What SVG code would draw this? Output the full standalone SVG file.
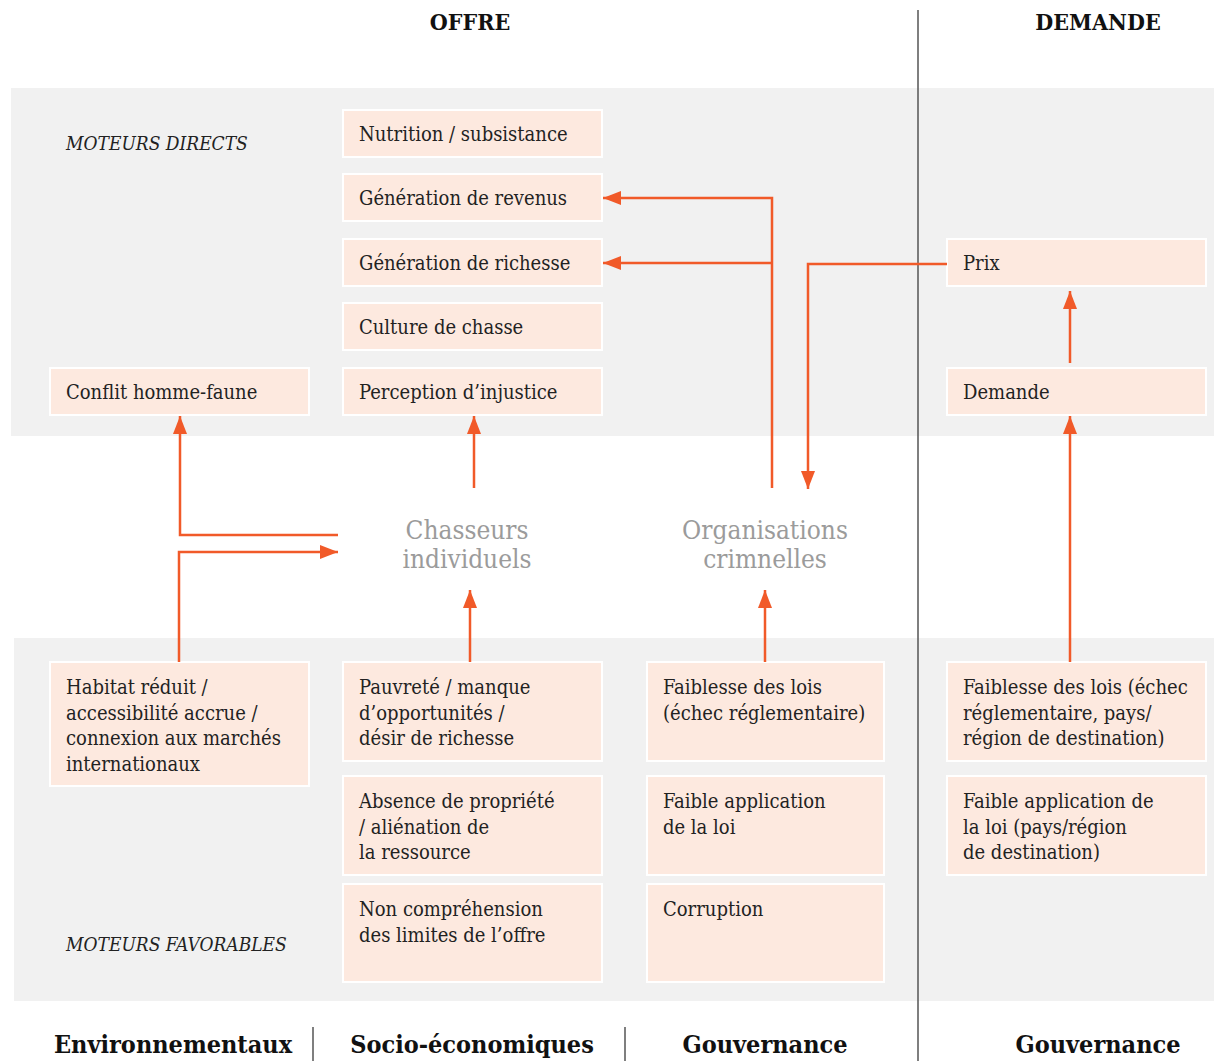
<svg xmlns="http://www.w3.org/2000/svg" width="1214" height="1061" viewBox="0 0 1214 1061">
<defs>
<style>
.band{fill:#f1f1f1}
.box{fill:#fde9df;stroke:#ffffff;stroke-width:2}
.t{font-family:"DejaVu Serif Condensed","DejaVu Serif","Liberation Serif",serif;font-stretch:condensed;font-size:20px;fill:#222}
.it{font-family:"DejaVu Serif Condensed","DejaVu Serif","Liberation Serif",serif;font-stretch:condensed;font-size:19px;font-style:italic;fill:#222}
.hd{font-family:"DejaVu Serif Condensed","DejaVu Serif","Liberation Serif",serif;font-stretch:condensed;font-weight:bold;font-size:23px;fill:#111;text-anchor:middle}
.ft{font-family:"DejaVu Serif Condensed","DejaVu Serif","Liberation Serif",serif;font-stretch:condensed;font-weight:bold;font-size:25px;fill:#111;text-anchor:middle}
.actor{font-family:"DejaVu Serif Condensed","DejaVu Serif","Liberation Serif",serif;font-stretch:condensed;font-size:26px;fill:#9b9b9b;text-anchor:middle}
.div{stroke:#555;stroke-width:1.5;fill:none}
.con{stroke:#f15a29;stroke-width:2.5;fill:none}
</style>
<marker id="ah" markerUnits="userSpaceOnUse" markerWidth="20" markerHeight="14" viewBox="0 0 20 14" refX="18" refY="7" orient="auto">
<path d="M0,0 L18,7 L0,14 Z" fill="#f15a29"/>
</marker>
</defs>
<rect width="1214" height="1061" fill="#ffffff"/>
<g id="bands">
<rect class="band" x="11" y="88" width="1203" height="348"/>
<rect class="band" x="14" y="638" width="1200" height="363"/>
</g>
<g id="dividers">
<line class="div" x1="918" y1="10" x2="918" y2="1061"/>
<line class="div" x1="313" y1="1027" x2="313" y2="1061"/>
<line class="div" x1="625" y1="1027" x2="625" y2="1061"/>
</g>
<g id="headers">
<text class="hd" x="470" y="30">OFFRE</text>
<text class="hd" x="1098" y="30">DEMANDE</text>
<text class="it" x="66" y="150">MOTEURS DIRECTS</text>
<text class="it" x="66" y="951">MOTEURS FAVORABLES</text>
<text class="ft" x="173" y="1053">Environnementaux</text>
<text class="ft" x="472" y="1053">Socio-économiques</text>
<text class="ft" x="765" y="1053">Gouvernance</text>
<text class="ft" x="1098" y="1053">Gouvernance</text>
</g>
<g id="n-nutrition"><rect class="box" x="343" y="110" width="259" height="47"/><text class="t" x="359" y="141">Nutrition / subsistance</text></g>
<g id="n-revenus"><rect class="box" x="343" y="174" width="259" height="47"/><text class="t" x="359" y="205">Génération de revenus</text></g>
<g id="n-richesse"><rect class="box" x="343" y="239" width="259" height="47"/><text class="t" x="359" y="270">Génération de richesse</text></g>
<g id="n-culture"><rect class="box" x="343" y="303" width="259" height="47"/><text class="t" x="359" y="334">Culture de chasse</text></g>
<g id="n-perception"><rect class="box" x="343" y="368" width="259" height="47"/><text class="t" x="359" y="399">Perception d’injustice</text></g>
<g id="n-conflit"><rect class="box" x="50" y="368" width="259" height="47"/><text class="t" x="66" y="399">Conflit homme-faune</text></g>
<g id="n-prix"><rect class="box" x="947" y="239" width="259" height="47"/><text class="t" x="963" y="270">Prix</text></g>
<g id="n-demande"><rect class="box" x="947" y="368" width="259" height="47"/><text class="t" x="963" y="399">Demande</text></g>
<g id="n-chasseurs"><text class="actor" x="467" y="539">Chasseurs</text><text class="actor" x="467" y="568">individuels</text></g>
<g id="n-organisations"><text class="actor" x="765" y="539">Organisations</text><text class="actor" x="765" y="568">crimnelles</text></g>
<g id="n-habitat"><rect class="box" x="50" y="662" width="259" height="124"/><text class="t"><tspan x="66" y="694">Habitat réduit /</tspan><tspan x="66" y="720">accessibilité accrue /</tspan><tspan x="66" y="745">connexion aux marchés</tspan><tspan x="66" y="771">internationaux</tspan></text></g>
<g id="n-pauvrete"><rect class="box" x="343" y="662" width="259" height="99"/><text class="t"><tspan x="359" y="694">Pauvreté / manque</tspan><tspan x="359" y="720">d’opportunités /</tspan><tspan x="359" y="745">désir de richesse</tspan></text></g>
<g id="n-absence"><rect class="box" x="343" y="776" width="259" height="99"/><text class="t"><tspan x="359" y="808">Absence de propriété</tspan><tspan x="359" y="834">/ aliénation de</tspan><tspan x="359" y="859">la ressource</tspan></text></g>
<g id="n-noncomp"><rect class="box" x="343" y="884" width="259" height="98"/><text class="t"><tspan x="359" y="916">Non compréhension</tspan><tspan x="359" y="942">des limites de l’offre</tspan></text></g>
<g id="n-faiblesse"><rect class="box" x="647" y="662" width="237" height="99"/><text class="t"><tspan x="663" y="694">Faiblesse des lois</tspan><tspan x="663" y="720">(échec réglementaire)</tspan></text></g>
<g id="n-faibleapp"><rect class="box" x="647" y="776" width="237" height="99"/><text class="t"><tspan x="663" y="808">Faible application</tspan><tspan x="663" y="834">de la loi</tspan></text></g>
<g id="n-corruption"><rect class="box" x="647" y="884" width="237" height="98"/><text class="t"><tspan x="663" y="916">Corruption</tspan></text></g>
<g id="n-faiblesse-d"><rect class="box" x="947" y="662" width="259" height="99"/><text class="t"><tspan x="963" y="694">Faiblesse des lois (échec</tspan><tspan x="963" y="720">réglementaire, pays/</tspan><tspan x="963" y="745">région de destination)</tspan></text></g>
<g id="n-faibleapp-d"><rect class="box" x="947" y="776" width="259" height="99"/><text class="t"><tspan x="963" y="808">Faible application de</tspan><tspan x="963" y="834">la loi (pays/région</tspan><tspan x="963" y="859">de destination)</tspan></text></g>
<g id="connectors">
<path class="con" d="M338,535 H180 V416" marker-end="url(#ah)"/>
<path class="con" d="M179,662 V552 H338" marker-end="url(#ah)"/>
<path class="con" d="M474,488 V416" marker-end="url(#ah)"/>
<path class="con" d="M470,662 V590" marker-end="url(#ah)"/>
<path class="con" d="M772,488 V198 H603" marker-end="url(#ah)"/>
<path class="con" d="M772,263 H603" marker-end="url(#ah)"/>
<path class="con" d="M947,264 H808 V489" marker-end="url(#ah)"/>
<path class="con" d="M765,662 V590" marker-end="url(#ah)"/>
<path class="con" d="M1070,662 V416" marker-end="url(#ah)"/>
<path class="con" d="M1070,363 V291" marker-end="url(#ah)"/>
</g>
</svg>
